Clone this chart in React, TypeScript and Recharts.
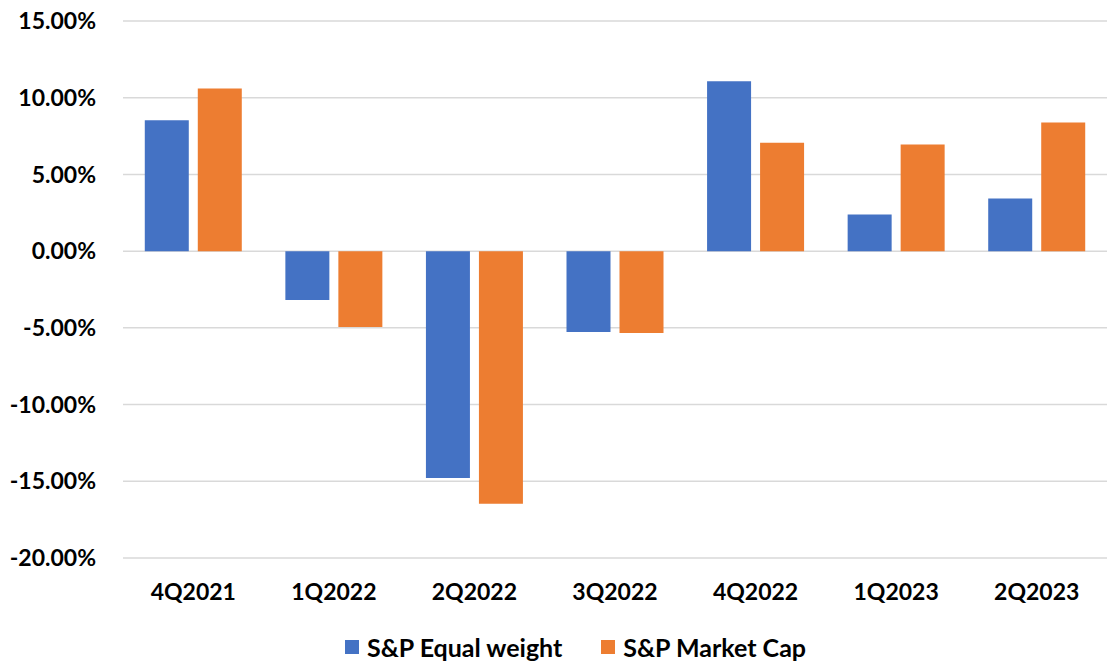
import { BarChart, Bar, XAxis, YAxis, CartesianGrid } from 'recharts';

const quarters = ['4Q2021', '1Q2022', '2Q2022', '3Q2022', '4Q2022', '1Q2023', '2Q2023'];
const equalWeight = [8.53, -3.19, -14.78, -5.27, 11.07, 2.39, 3.43];
const marketCap = [10.6, -4.95, -16.47, -5.34, 7.06, 6.95, 8.38];
const yTicks = [-20, -15, -10, -5, 0, 5, 10, 15];

const data = quarters.map((q, i) => ({
    name: q,
    equal: equalWeight[i],
    market: marketCap[i],
}));

const FONT = 'Lato, "Open Sans", sans-serif';

// legend drawn as plain html under the chart
const LegendBox = () => (
    <div
        style={{
            position: 'absolute',
            left: 345,
            top: 632,
            display: 'flex',
            alignItems: 'center',
            fontFamily: FONT,
            fontWeight: 700,
            fontSize: 25,
            color: '#000',
            gap: 39,
            whiteSpace: 'nowrap',
        }}
    >
        <span style={{ display: 'flex', alignItems: 'center' }}>
            <span style={{ width: 14, height: 14, background: '#4472C4', marginRight: 8 }} />
            S&amp;P Equal weight
        </span>
        <span style={{ display: 'flex', alignItems: 'center' }}>
            <span style={{ width: 14, height: 14, background: '#ED7D31', marginRight: 8 }} />
            S&amp;P Market Cap
        </span>
    </div>
);

const App = () => {
    return (
        <div style={{ position: 'fixed', left: 0, top: 0, width: 1107, height: 664, background: '#fff' }}>
            <BarChart
                width={1107}
                height={664}
                data={data}
                margin={{ top: 21, right: 0, left: 0, bottom: 46 }}
                barCategoryGap="15.5%"
                barGap={9}
            >
                <CartesianGrid vertical={false} stroke="#d9d9d9" strokeWidth={1.5} />
                <XAxis
                    dataKey="name"
                    axisLine={false}
                    tickLine={false}
                    height={60}
                    tickMargin={20}
                    tick={{ fill: '#000', fontFamily: FONT, fontWeight: 700, fontSize: 23 }}
                />
                <YAxis
                    domain={[-20, 15]}
                    ticks={yTicks}
                    width={123}
                    axisLine={false}
                    tickLine={false}
                    tickMargin={21}
                    tickFormatter={(v: number) => `${v.toFixed(2)}%`}
                    tick={{ fill: '#000', fontFamily: FONT, fontWeight: 700, fontSize: 23 }}
                />
                <Bar dataKey="equal" name="S&P Equal weight" fill="#4472C4" isAnimationActive={false} />
                <Bar dataKey="market" name="S&P Market Cap" fill="#ED7D31" isAnimationActive={false} />
            </BarChart>
            <LegendBox />
        </div>
    );
};

export default App;
